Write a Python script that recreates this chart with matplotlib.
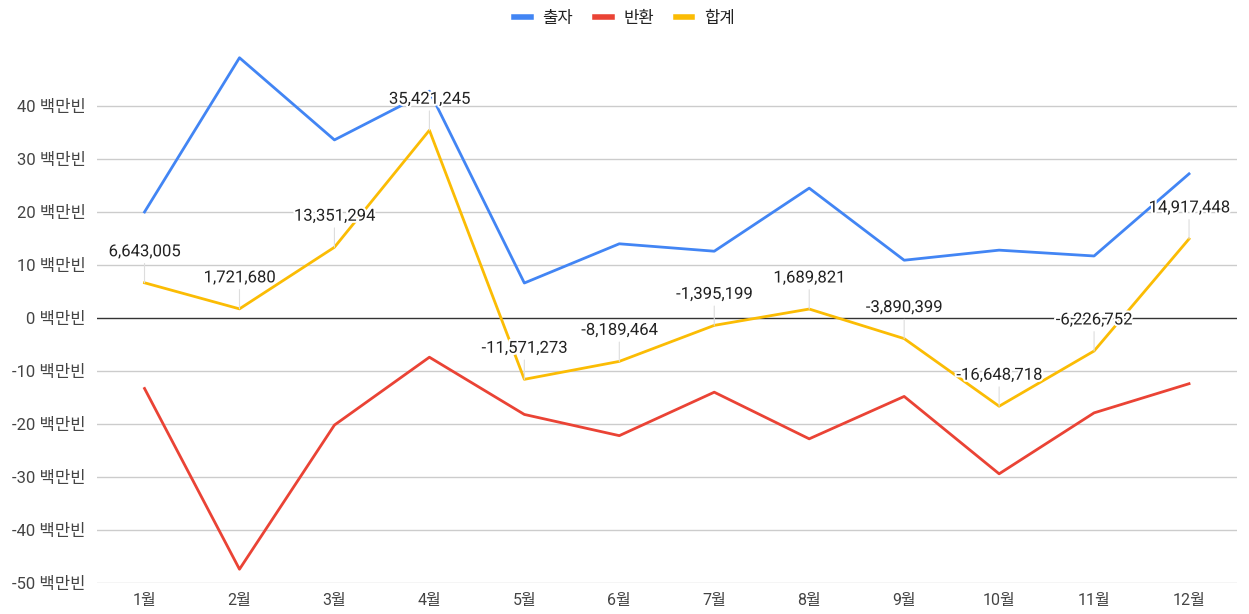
import matplotlib
matplotlib.use('Agg')
import matplotlib.pyplot as plt
import matplotlib.patheffects as pe
from matplotlib.lines import Line2D

plt.rcParams['font.family'] = ['Roboto', 'Noto Sans CJK KR', 'DejaVu Sans']

months = ['1월', '2월', '3월', '4월', '5월', '6월', '7월', '8월', '9월', '10월', '11월', '12월']
# 단위: 백만
invest = [20.0, 49.1, 33.6, 42.8, 6.6, 14.0, 12.6, 24.5, 10.9, 12.8, 11.7, 27.2]
refund = [-13.3, -47.4, -20.2, -7.4, -18.2, -22.2, -14.0, -22.8, -14.8, -29.4, -17.9, -12.4]
total = [6643005, 1721680, 13351294, 35421245, -11571273, -8189464,
         -1395199, 1689821, -3890399, -16648718, -6226752, 14917448]

c_blue = '#4285F4'
c_red = '#EA4335'
c_yel = '#FBBC04'

fig = plt.figure(figsize=(12.49, 6.14), dpi=100)
ax = fig.add_axes([0.0777, 0.0505, 0.9123, 0.8632])

x = list(range(len(months)))
total_m = [v / 1e6 for v in total]

ax.plot(x, invest, color=c_blue, lw=2, zorder=3)
ax.plot(x, refund, color=c_red, lw=2, zorder=3)
ax.plot(x, total_m, color=c_yel, lw=2, zorder=3)

ax.set_xlim(-0.5, len(months) - 0.5)
ax.set_ylim(-50, 50)
yt = list(range(-50, 41, 10))
ax.set_yticks(yt)
ax.set_yticklabels([f'{v} 백만빈' for v in yt])
ax.set_xticks(x)
ax.set_xticklabels(months)
ax.tick_params(axis='both', length=0, colors='#444444')
ax.tick_params(axis='y', pad=8, labelsize=12)
ax.tick_params(axis='x', pad=7, labelsize=11.5)
for s in ax.spines.values():
    s.set_visible(False)
for v in yt:
    ax.axhline(v, color='#cccccc' if v != 0 else '#333333', lw=1, zorder=1)

# 합계 데이터 레이블
for i, v in enumerate(total):
    t = ax.annotate(f'{v:,}', xy=(i, v / 1e6), xytext=(0, 31),
                    textcoords='offset pixels', ha='center', va='center',
                    fontsize=12, color='#222222', zorder=5,
                    arrowprops=dict(arrowstyle='-', color='#dddddd', lw=0.8,
                                    shrinkA=1, shrinkB=0, relpos=(0.5, 0)))
    t.set_path_effects([pe.withStroke(linewidth=3, foreground='white')])

handles = [Line2D([], [], color=c, lw=4) for c in (c_blue, c_red, c_yel)]
fig.legend(handles, ['출자', '반환', '합계'], loc='upper center',
           bbox_to_anchor=(0.5, 1.007), ncol=3, frameon=False, fontsize=12,
           handlelength=1.0, handletextpad=0.7, columnspacing=1.3,
           labelcolor='#222222')

fig.savefig('out.png', dpi=100)
